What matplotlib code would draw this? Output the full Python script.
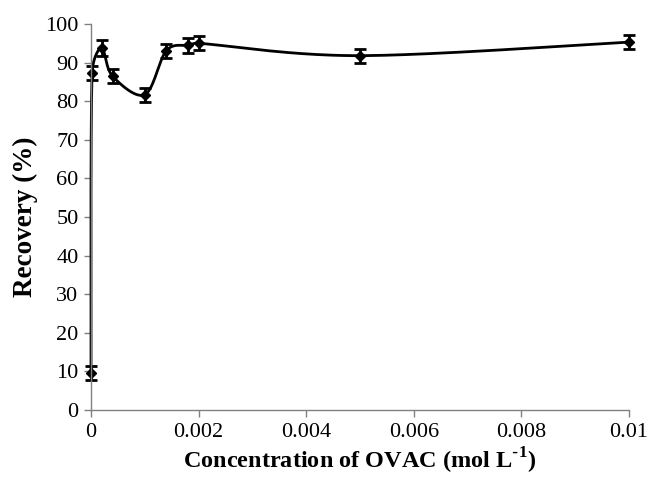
import matplotlib
matplotlib.use('Agg')
import matplotlib.pyplot as plt
import numpy as np

# concentration of OVAC (mol/L) and recovery (%)
conc = [0.0, 0.00002, 0.0002, 0.0004, 0.001, 0.0014, 0.0018, 0.002, 0.005, 0.01]
recovery = [9.5, 87.3, 93.8, 86.5, 81.7, 93.1, 94.5, 95.0, 91.8, 95.3]
err = [1.8, 1.8, 2.0, 1.8, 1.8, 1.8, 2.0, 1.8, 1.8, 1.8]

plt.rcParams['font.family'] = ['Liberation Serif', 'DejaVu Serif']

fig = plt.figure(figsize=(6.51, 4.80), dpi=100)
ax = fig.add_axes([0.1398, 0.1458, 0.8264, 0.8042])
ax.set_xlim(0, 0.01)
ax.set_ylim(0, 100)


# excel-like smoothed line, arms (p2-p0)/6 but capped to half the segment
def smooth(xs, ys, xr, yr, n=40):
    p = np.column_stack([np.array(xs) / xr, np.array(ys) / yr])
    m = len(p)
    out = []
    for i in range(m - 1):
        p0 = p[max(i - 1, 0)]
        p1 = p[i]
        p2 = p[i + 1]
        p3 = p[min(i + 2, m - 1)]
        L = np.linalg.norm(p2 - p1)
        a1 = (p2 - p0) / 6
        a2 = (p3 - p1) / 6
        if np.linalg.norm(a1) > 0.5 * L:
            a1 = a1 / np.linalg.norm(a1) * 0.5 * L
        if np.linalg.norm(a2) > 0.5 * L:
            a2 = a2 / np.linalg.norm(a2) * 0.5 * L
        c1 = p1 + a1
        c2 = p2 - a2
        t = np.linspace(0, 1, n)[:, None]
        seg = (1 - t) ** 3 * p1 + 3 * (1 - t) ** 2 * t * c1 + 3 * (1 - t) * t ** 2 * c2 + t ** 3 * p2
        out.append(seg)
    out = np.vstack(out)
    return out[:, 0] * xr, out[:, 1] * yr


sx, sy = smooth(conc, recovery, 0.01 / 1.4, 100)
ax.plot(sx, sy, color='black', lw=2.0, clip_on=False)
ax.errorbar(conc, recovery, yerr=err, fmt='D', color='black', ms=5,
            ecolor='black', elinewidth=2, capsize=4, capthick=2, clip_on=False)

ax.spines['top'].set_visible(False)
ax.spines['right'].set_visible(False)
for s in ['left', 'bottom']:
    ax.spines[s].set_color('#808080')
    ax.spines[s].set_linewidth(1.0)

ax.set_xticks([0, 0.002, 0.004, 0.006, 0.008, 0.01])
ax.set_xticklabels(['0', '0.002', '0.004', '0.006', '0.008', '0.01'])
ax.set_yticks(range(0, 101, 10))
ax.tick_params(direction='out', length=5, width=1, color='#808080', labelsize=16, pad=4)

ax.set_xlabel('Concentration of OVAC (mol L$^{\\text{-}\\mathregular{1}}$)', fontsize=17.5,
              fontweight='bold', labelpad=3)
ax.set_ylabel('Recovery (%)', fontsize=19.5, fontweight='bold', labelpad=5)

fig.savefig('out.png', dpi=100)
